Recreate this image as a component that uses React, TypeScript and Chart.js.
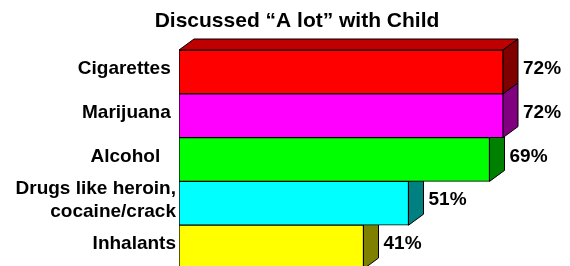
import React, { useEffect, useRef } from "react";
import { Chart, registerables } from "chart.js";

Chart.register(...registerables);

const title = "Discussed \u201cA lot\u201d with Child";
const categories: (string | string[])[] = [
  "Cigarettes ",
  "Marijuana ",
  "Alcohol   ",
  ["Drugs like heroin,", "cocaine/crack"],
  "Inhalants",
];
const values = [72, 72, 69, 51, 41];
const frontColors = ["#FF0000", "#FF00FF", "#00FF00", "#00FFFF", "#FFFF00"];
const sideColors = ["#800000", "#800080", "#008000", "#008080", "#808000"];
const topColors = ["#BF0000", "#BF00BF", "#00BF00", "#00BFBF", "#BFBF00"];

const FONT = '"Liberation Sans", Arial, sans-serif';
const DX = 15;
const DY = 11;

const threeD = {
  id: "threeD",
  beforeDatasetsDraw(chart: any) {
    const ctx = chart.ctx;
    const meta = chart.getDatasetMeta(0);
    ctx.save();
    ctx.lineWidth = 1;
    ctx.strokeStyle = "#000";
    for (let i = meta.data.length - 1; i >= 0; i--) {
      const p = meta.data[i].getProps(["x", "y", "base", "height"], true);
      const top = p.y - p.height / 2;
      const bottom = p.y + p.height / 2;
      // top face
      ctx.beginPath();
      ctx.moveTo(p.base, top);
      ctx.lineTo(p.base + DX, top - DY);
      ctx.lineTo(p.x + DX, top - DY);
      ctx.lineTo(p.x, top);
      ctx.closePath();
      ctx.fillStyle = topColors[i];
      ctx.fill();
      ctx.stroke();
      // side face
      ctx.beginPath();
      ctx.moveTo(p.x, top);
      ctx.lineTo(p.x + DX, top - DY);
      ctx.lineTo(p.x + DX, bottom - DY);
      ctx.lineTo(p.x, bottom);
      ctx.closePath();
      ctx.fillStyle = sideColors[i];
      ctx.fill();
      ctx.stroke();
    }
    ctx.restore();
  },
  afterDraw(chart: any) {
    const ctx = chart.ctx;
    const meta = chart.getDatasetMeta(0);
    const yScale = chart.scales.y;
    ctx.save();
    ctx.fillStyle = "#000";
    // title
    ctx.font = `bold 21px ${FONT}`;
    ctx.textAlign = "center";
    ctx.textBaseline = "alphabetic";
    ctx.fillText(title, 297, 27);
    // value labels
    ctx.font = `bold 19px ${FONT}`;
    ctx.textAlign = "left";
    meta.data.forEach((bar: any, i: number) => {
      const p = bar.getProps(["x", "y"], true);
      ctx.fillText(`${values[i]}%`, p.x + DX + 5, p.y - 5 + 7);
    });
    // category labels
    ctx.textAlign = "right";
    categories.forEach((lab, i) => {
      const cy = yScale.getPixelForValue(i) - 5;
      const lines = Array.isArray(lab) ? lab : [lab];
      const lh = 23;
      const start = cy - ((lines.length - 1) * lh) / 2;
      lines.forEach((ln, j) => {
        ctx.fillText(ln, 176, start + j * lh + 7);
      });
    });
    ctx.restore();
  },
};

export default function App() {
  const ref = useRef<HTMLCanvasElement>(null);
  useEffect(() => {
    if (!ref.current) return;
    const chart = new Chart(ref.current, {
      type: "bar",
      data: {
        labels: categories.map((c) => (Array.isArray(c) ? c.join(" ") : c)),
        datasets: [
          {
            data: values,
            backgroundColor: frontColors,
            borderColor: "#000",
            borderWidth: 1,
            borderSkipped: false,
            barPercentage: 1,
            categoryPercentage: 1,
          },
        ],
      },
      options: {
        indexAxis: "y",
        responsive: false,
        animation: false,
        devicePixelRatio: 1,
        layout: { padding: { left: 179, right: 31, top: 50, bottom: 11 } },
        plugins: {
          legend: { display: false },
          title: { display: false },
          tooltip: { enabled: false },
        },
        scales: {
          x: { display: false, min: 0, max: 80 },
          y: { display: false },
        },
      },
      plugins: [threeD],
    } as any);
    return () => chart.destroy();
  }, []);
  return (
    <div
      style={{
        position: "fixed",
        left: 0,
        top: 0,
        width: 570,
        height: 266,
        overflow: "hidden",
        background: "#fff",
      }}
    >
      <canvas ref={ref} width={570} height={280} style={{ display: "block" }} />
    </div>
  );
}
